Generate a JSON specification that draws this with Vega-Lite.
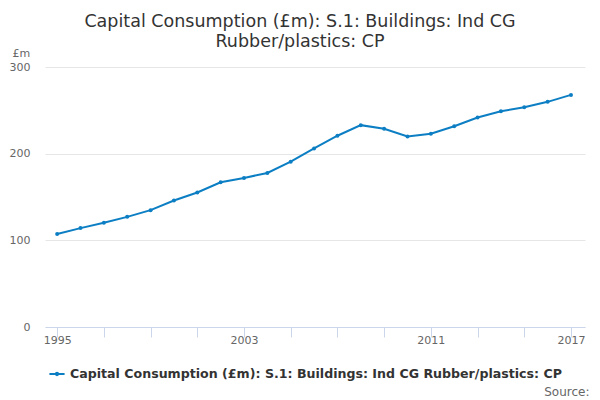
{
  "$schema": "https://vega.github.io/schema/vega-lite/v6.json",
  "width": 540,
  "height": 260,
  "autosize": "none",
  "padding": {"left": 45, "top": 67, "right": 15, "bottom": 73},
  "background": "white",
  "title": {
    "text": ["Capital Consumption (£m): S.1: Buildings: Ind CG", "Rubber/plastics: CP"],
    "font": "DejaVu Sans",
    "fontSize": 17.5,
    "fontWeight": "normal",
    "color": "#333333",
    "anchor": "middle",
    "dx": -15,
    "offset": -3,
    "lineHeight": 20
  },
  "data": {
    "values": [
      {"year": 1995, "value": 107.2, "series": "Capital Consumption (£m): S.1: Buildings: Ind CG Rubber/plastics: CP"},
      {"year": 1996, "value": 114.1, "series": "Capital Consumption (£m): S.1: Buildings: Ind CG Rubber/plastics: CP"},
      {"year": 1997, "value": 120.2, "series": "Capital Consumption (£m): S.1: Buildings: Ind CG Rubber/plastics: CP"},
      {"year": 1998, "value": 127.1, "series": "Capital Consumption (£m): S.1: Buildings: Ind CG Rubber/plastics: CP"},
      {"year": 1999, "value": 134.8, "series": "Capital Consumption (£m): S.1: Buildings: Ind CG Rubber/plastics: CP"},
      {"year": 2000, "value": 146.0, "series": "Capital Consumption (£m): S.1: Buildings: Ind CG Rubber/plastics: CP"},
      {"year": 2001, "value": 155.2, "series": "Capital Consumption (£m): S.1: Buildings: Ind CG Rubber/plastics: CP"},
      {"year": 2002, "value": 167.0, "series": "Capital Consumption (£m): S.1: Buildings: Ind CG Rubber/plastics: CP"},
      {"year": 2003, "value": 172.0, "series": "Capital Consumption (£m): S.1: Buildings: Ind CG Rubber/plastics: CP"},
      {"year": 2004, "value": 177.7, "series": "Capital Consumption (£m): S.1: Buildings: Ind CG Rubber/plastics: CP"},
      {"year": 2005, "value": 190.8, "series": "Capital Consumption (£m): S.1: Buildings: Ind CG Rubber/plastics: CP"},
      {"year": 2006, "value": 206.1, "series": "Capital Consumption (£m): S.1: Buildings: Ind CG Rubber/plastics: CP"},
      {"year": 2007, "value": 220.7, "series": "Capital Consumption (£m): S.1: Buildings: Ind CG Rubber/plastics: CP"},
      {"year": 2008, "value": 232.9, "series": "Capital Consumption (£m): S.1: Buildings: Ind CG Rubber/plastics: CP"},
      {"year": 2009, "value": 228.7, "series": "Capital Consumption (£m): S.1: Buildings: Ind CG Rubber/plastics: CP"},
      {"year": 2010, "value": 219.9, "series": "Capital Consumption (£m): S.1: Buildings: Ind CG Rubber/plastics: CP"},
      {"year": 2011, "value": 223.0, "series": "Capital Consumption (£m): S.1: Buildings: Ind CG Rubber/plastics: CP"},
      {"year": 2012, "value": 231.7, "series": "Capital Consumption (£m): S.1: Buildings: Ind CG Rubber/plastics: CP"},
      {"year": 2013, "value": 241.7, "series": "Capital Consumption (£m): S.1: Buildings: Ind CG Rubber/plastics: CP"},
      {"year": 2014, "value": 249.0, "series": "Capital Consumption (£m): S.1: Buildings: Ind CG Rubber/plastics: CP"},
      {"year": 2015, "value": 253.6, "series": "Capital Consumption (£m): S.1: Buildings: Ind CG Rubber/plastics: CP"},
      {"year": 2016, "value": 259.8, "series": "Capital Consumption (£m): S.1: Buildings: Ind CG Rubber/plastics: CP"},
      {"year": 2017, "value": 267.8, "series": "Capital Consumption (£m): S.1: Buildings: Ind CG Rubber/plastics: CP"}
    ]
  },
  "mark": {"type": "line", "strokeWidth": 2, "point": {"filled": true, "size": 16}},
  "encoding": {
    "x": {
      "field": "year",
      "type": "quantitative",
      "scale": {"domain": [1994.48, 2017.6], "nice": false, "zero": false},
      "axis": {
        "values": [1995, 1997, 1999, 2001, 2003, 2005, 2007, 2009, 2011, 2013, 2015, 2017],
        "labelExpr": "datum.value == 1995 || datum.value == 2003 || datum.value == 2011 || datum.value == 2017 ? '' + datum.value : ''",
        "grid": false,
        "domainColor": "#ccd6eb",
        "tickColor": "#ccd6eb",
        "tickSize": 10,
        "labelPadding": -3,
        "labelFont": "DejaVu Sans",
        "labelFontSize": 11,
        "labelColor": "#666666",
        "labelBaseline": "top",
        "labelFlush": false,
        "labelOverlap": false,
        "title": "Source:",
        "titleFont": "DejaVu Sans",
        "titleFontSize": 12,
        "titleFontWeight": "normal",
        "titleColor": "#666666",
        "titleAnchor": null,
        "titleAlign": "right",
        "titleBaseline": "alphabetic",
        "titleX": 544,
        "titleY": 68
      }
    },
    "y": {
      "field": "value",
      "type": "quantitative",
      "scale": {"domain": [0, 300], "nice": false},
      "axis": {
        "values": [0, 100, 200, 300],
        "domain": false,
        "ticks": false,
        "gridColor": "#e6e6e6",
        "labelPadding": 15,
        "labelFont": "DejaVu Sans",
        "labelFontSize": 11,
        "labelColor": "#666666",
        "title": "£m",
        "titleAngle": 0,
        "titleFont": "DejaVu Sans",
        "titleFontSize": 11,
        "titleFontWeight": "normal",
        "titleColor": "#666666",
        "titleAlign": "left",
        "titleBaseline": "alphabetic",
        "titleX": -33,
        "titleY": -11
      }
    },
    "color": {
      "field": "series",
      "type": "nominal",
      "scale": {"range": ["#0c7ec3"]},
      "legend": {
        "title": null,
        "orient": "none",
        "legendX": 3,
        "legendY": 298,
        "symbolType": "M-1,0L1,0M-0.15,0a0.15,0.15 0 1,0 0.3,0a0.15,0.15 0 1,0 -0.3,0",
        "symbolSize": 230,
        "symbolStrokeWidth": 2,
        "labelFont": "DejaVu Sans",
        "labelFontSize": 12.6,
        "labelFontWeight": "bold",
        "labelColor": "#333333",
        "labelLimit": 0
      }
    }
  },
  "config": {"view": {"stroke": null}}
}
